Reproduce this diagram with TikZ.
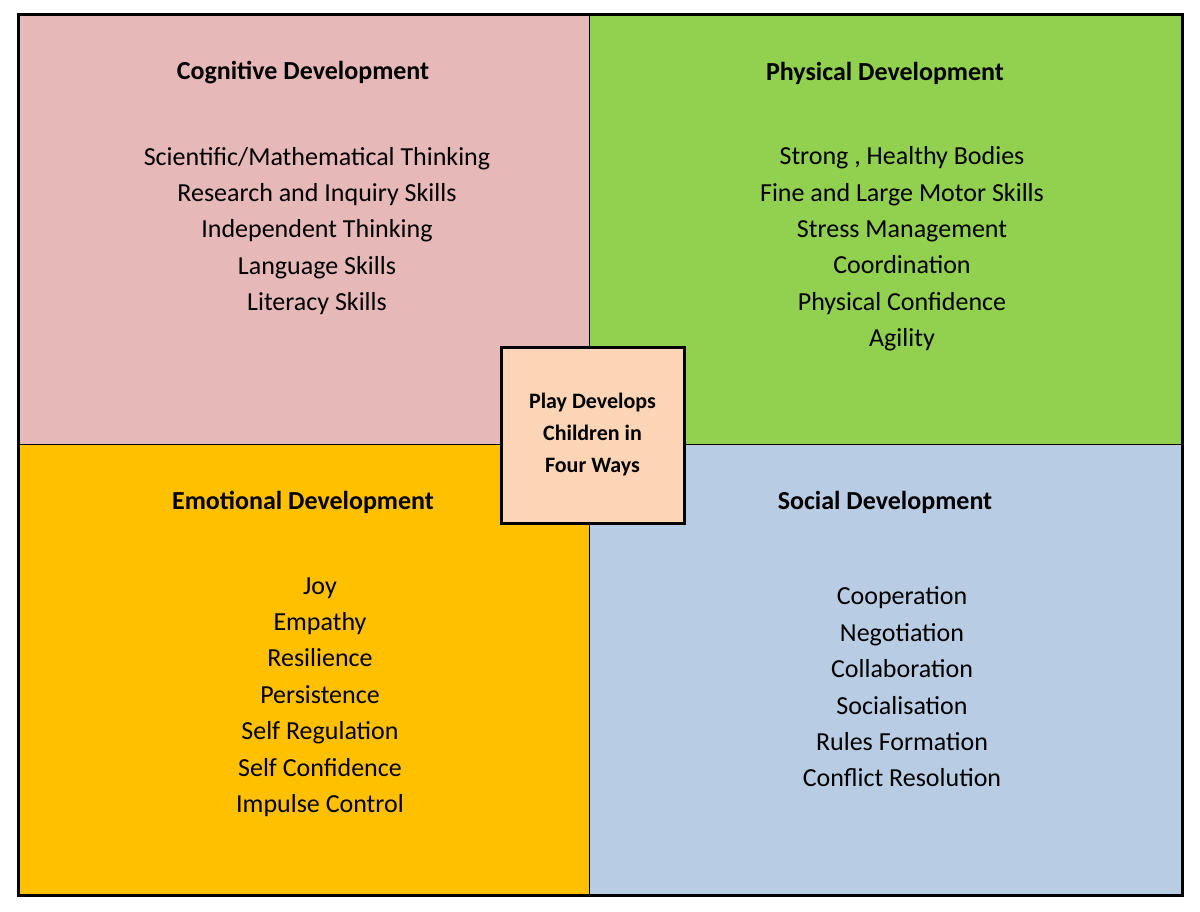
\documentclass[tikz,border=0pt]{standalone}
\usepackage{fontspec}
\setmainfont{Carlito}
\definecolor{cpink}{HTML}{E6B8B7}
\definecolor{cgreen}{HTML}{92D050}
\definecolor{corange}{HTML}{FFC000}
\definecolor{cblue}{HTML}{B8CCE4}
\definecolor{cpeach}{HTML}{FBD5B5}
\begin{document}
\begin{tikzpicture}[x=1pt,y=-1pt,
  ttl/.style={font=\fontsize{26}{31}\selectfont\bfseries},
  lst/.style={font=\fontsize{26}{36.4}\selectfont,align=center}]
\useasboundingbox (0,0) rectangle (1200,912);
\fill[cpink] (18,15) rectangle (589,444);
\fill[cgreen] (589,15) rectangle (1182,444);
\fill[corange] (18,444) rectangle (589,895);
\fill[cblue] (589,444) rectangle (1182,895);
\draw[line width=0.8pt] (589,15) -- (589,895) (18,444) -- (1182,444);
\draw[line width=3pt] (18,15) rectangle (1182,895);
\node[draw,line width=3pt,fill=cpeach,minimum width=183,minimum height=176,inner sep=0,
  align=center,font=\fontsize{22}{32}\selectfont\bfseries] (c) at (592.5,435) {Play Develops\\Children in\\Four Ways};
\node[ttl] (t1) at (303,73) {Cognitive Development};
\node[ttl] (t2) at (885,73) {Physical Development};
\node[ttl] (t3) at (303,502) {Emotional Development};
\node[ttl] (t4) at (885,502) {Social Development};
\node[lst] (l1) at (317,231) {Scientific/Mathematical Thinking\\Research and Inquiry Skills\\Independent Thinking\\Language Skills\\Literacy Skills};
\node[lst] (l2) at (902,249) {Strong , Healthy Bodies\\Fine and Large Motor Skills\\Stress Management\\Coordination\\Physical Confidence\\Agility};
\node[lst] (l3) at (320,697) {Joy\\Empathy\\Resilience\\Persistence\\Self Regulation\\Self Confidence\\Impulse Control};
\node[lst] (l4) at (902,687) {Cooperation\\Negotiation\\Collaboration\\Socialisation\\Rules Formation\\Conflict Resolution};
\end{tikzpicture}
\end{document}
